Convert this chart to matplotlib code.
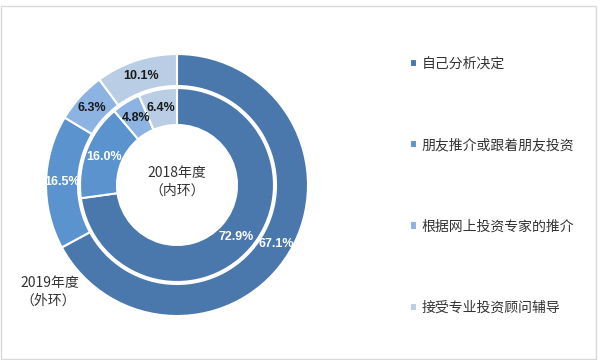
import numpy as np
import matplotlib
matplotlib.use("Agg")
import matplotlib.pyplot as plt
from matplotlib.patches import Rectangle

plt.rcParams["font.family"] = ["Noto Sans CJK SC", "DejaVu Sans"]

categories = ["自己分析决定", "朋友推介或跟着朋友投资", "根据网上投资专家的推介", "接受专业投资顾问辅导"]
outer_2019 = [67.1, 16.5, 6.3, 10.1]
inner_2018 = [72.9, 16.0, 4.8, 6.4]
colors = ["#4a78ad", "#5b93cf", "#8db3e2", "#b9cde5"]
text_colors = ["white", "white", "#1a1a1a", "#1a1a1a"]

fig = plt.figure(figsize=(6, 3.6), dpi=100)
ax = fig.add_axes([0, 0, 1, 1])
ax.set_xlim(0, 600)
ax.set_ylim(0, 360)
ax.set_aspect("equal")
ax.axis("off")

cx, cy = 177, 175
r_out, w_out = 131, 32
r_in, w_in = 97, 37

outer_wedges, _ = ax.pie(outer_2019, radius=r_out, center=(cx, cy), colors=colors,
                         startangle=90, counterclock=False,
                         wedgeprops=dict(width=w_out, edgecolor="white", linewidth=1.5))
inner_wedges, _ = ax.pie(inner_2018, radius=r_in, center=(cx, cy), colors=colors,
                         startangle=90, counterclock=False,
                         wedgeprops=dict(width=w_in, edgecolor="white", linewidth=1.5))
ax.set_xlim(0, 600)
ax.set_ylim(0, 360)


def add_labels(wedges, values, r_mid):
    for w, v, tc in zip(wedges, values, text_colors):
        ang = np.deg2rad((w.theta1 + w.theta2) / 2)
        x = cx + r_mid * np.cos(ang)
        y = cy + r_mid * np.sin(ang)
        ax.text(x, y, f"{v}%", ha="center", va="center", color=tc,
                fontsize=9, fontweight="bold", family="Liberation Sans")


add_labels(outer_wedges, outer_2019, r_out - w_out / 2)
add_labels(inner_wedges, inner_2018, r_in - w_in / 2)

ax.text(cx, cy + 3, "2018年度\n（内环）", ha="center", va="center",
        fontsize=10, color="#333333", linespacing=1.3)
ax.text(20, 68, "2019年度\n（外环）", ha="left", va="center",
        fontsize=10, color="#333333", linespacing=1.3)

ax.legend(outer_wedges, categories, loc="upper left", bbox_to_anchor=(0.662, 0.877),
          frameon=False, fontsize=10, labelspacing=4.85,
          handlelength=0.55, handleheight=0.55, handletextpad=0.3,
          labelcolor="#333333")

fig.patches.append(Rectangle((0.002, 0.003), 0.991, 0.98, transform=fig.transFigure,
                             fill=False, edgecolor="#d9d9d9", linewidth=1))

fig.savefig("out.png", dpi=100, facecolor="white")
